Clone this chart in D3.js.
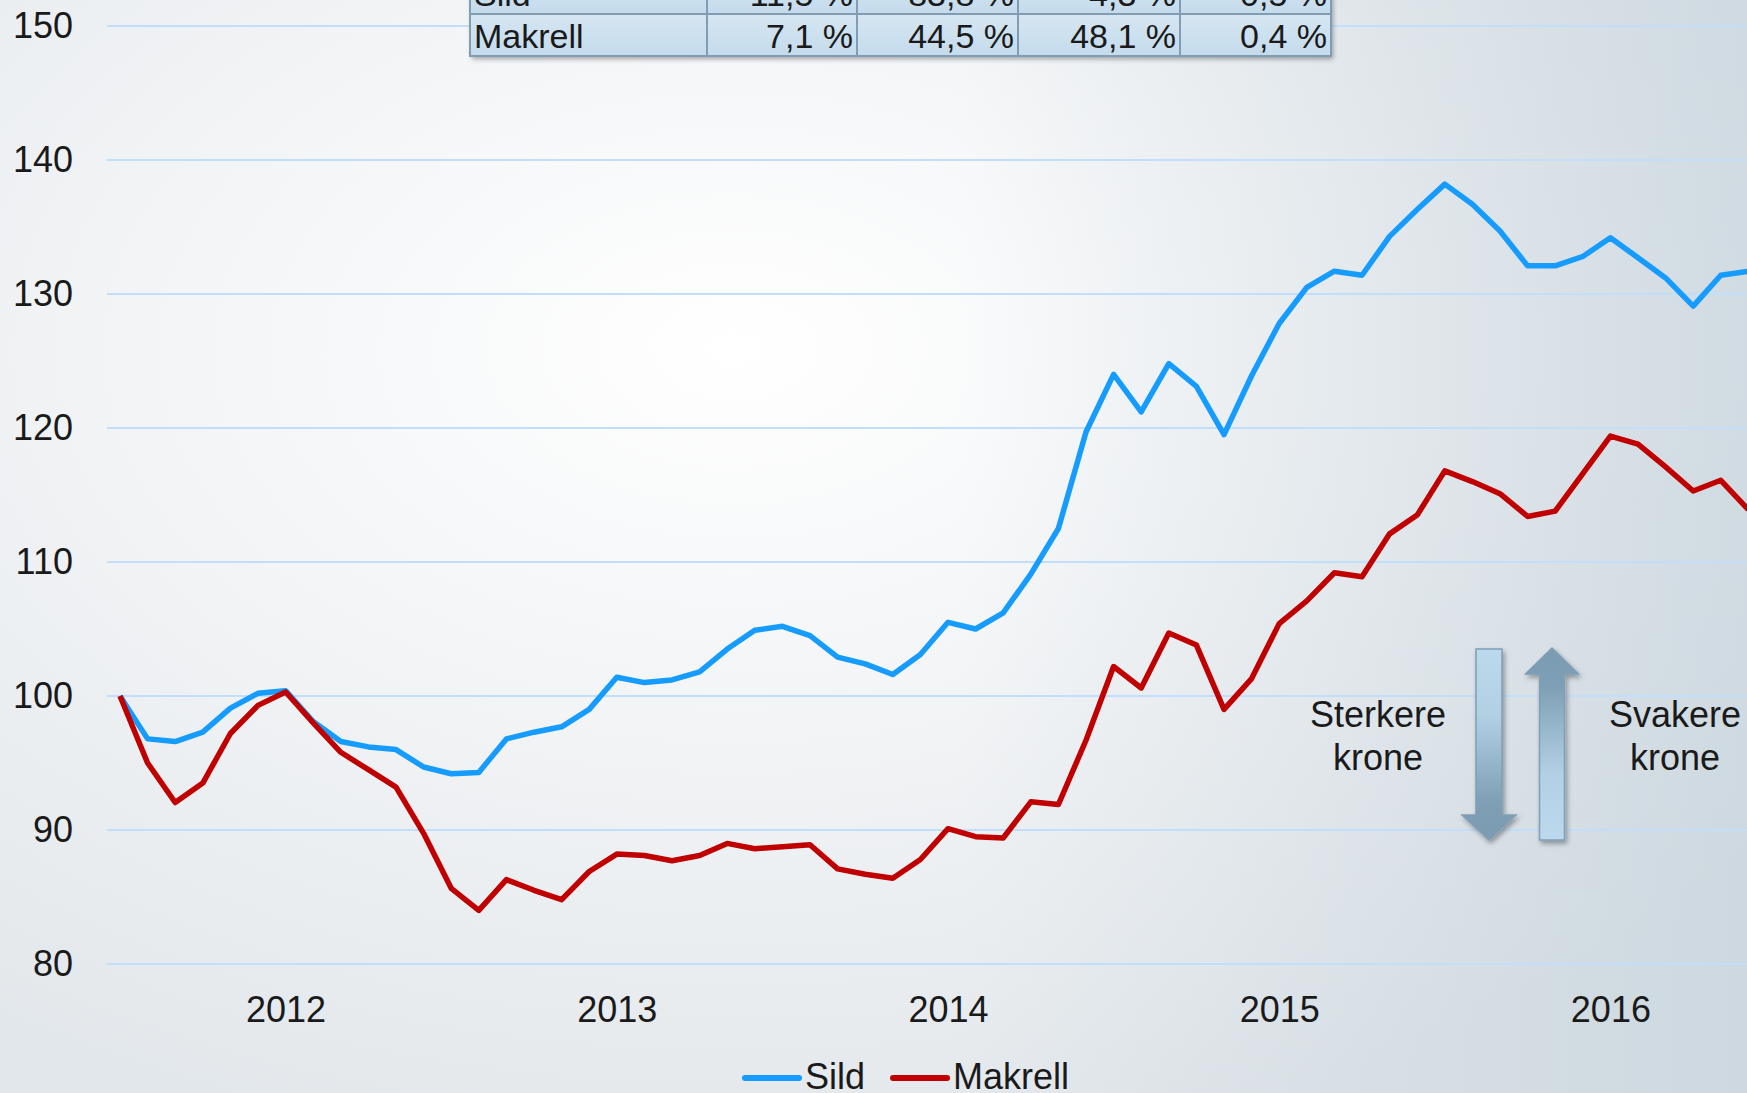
<!DOCTYPE html>
<html>
<head>
<meta charset="utf-8">
<script src="https://cdn.jsdelivr.net/npm/d3@7.9.0/dist/d3.min.js"></script>
<style>
  body { margin: 0; overflow: hidden; }
  svg { display: block; font-family: "Liberation Sans", Arial, sans-serif; }
</style>
</head>
<body>
<div id="chart"></div>
<script>
// monthly index, Jul 2011 .. Jun 2016
const months = d3.range(60).map(i => d3.timeFormat("%Y-%m")(new Date(2011, 6 + i, 1)));
const yearTicks = ["2012-01", "2013-01", "2014-01", "2015-01", "2016-01"];
const yTicks = [80, 90, 100, 110, 120, 130, 140, 150];

const sild = [100, 96.8, 96.6, 97.3, 99.1, 100.2, 100.4, 98.1, 96.6, 96.2,
  96.0, 94.7, 94.2, 94.3, 96.8, 97.3, 97.7, 99.0, 101.4, 101.0,
  101.2, 101.8, 103.5, 104.9, 105.2, 104.5, 102.9, 102.4, 101.6, 103.1,
  105.5, 105.0, 106.2, 109.1, 112.5, 119.7, 124.0, 121.2, 124.8, 123.1,
  119.5, 123.9, 127.8, 130.5, 131.7, 131.4, 134.3, 136.3, 138.2, 136.7,
  134.7, 132.1, 132.1, 132.8, 134.2, 132.7, 131.2, 129.1, 131.4, 131.7];

const makrell = [100, 95.0, 92.05, 93.5, 97.2, 99.3, 100.3, 98.0, 95.8, 94.5,
  93.2, 89.75, 85.65, 84.0, 86.3, 85.5, 84.8, 86.9, 88.2, 88.1,
  87.7, 88.1, 89.0, 88.6, 88.75, 88.9, 87.1, 86.7, 86.4, 87.8,
  90.1, 89.5, 89.4, 92.1, 91.9, 96.7, 102.2, 100.6, 104.7, 103.8,
  99.0, 101.3, 105.4, 107.1, 109.2, 108.9, 112.1, 113.5, 116.8, 116.0,
  115.1, 113.4, 113.8, 116.6, 119.4, 118.8, 117.1, 115.3, 116.1, 113.9];

// share table (top row is cut off in the original)
const tableRows = ["Sild", "Makrell"];
const tableValues = [
  ["11,5 %", "83,8 %", "4,3 %", "0,5 %"],
  ["7,1 %", "44,5 %", "48,1 %", "0,4 %"]
];

const series = [
  { name: "Sild", values: sild, color: "#169bff" },
  { name: "Makrell", values: makrell, color: "#c00000" }
];

const W = 1747, H = 1093;
const svg = d3.select("#chart").append("svg")
  .attr("width", W)
  .attr("height", H);

const defs = svg.append("defs");

const bg = defs.append("radialGradient")
  .attr("id", "bg")
  .attr("cx", "42%").attr("cy", "32%").attr("r", "75%");
bg.append("stop").attr("offset", "0").attr("stop-color", "#ffffff");
bg.append("stop").attr("offset", "0.5").attr("stop-color", "#f1f3f5");
bg.append("stop").attr("offset", "1").attr("stop-color", "#e2e7eb");

const side = defs.append("linearGradient")
  .attr("id", "side").attr("x1", 0).attr("y1", 0).attr("x2", 1).attr("y2", 0);
side.append("stop").attr("offset", "0.55").attr("stop-color", "#b4c6d2").attr("stop-opacity", 0);
side.append("stop").attr("offset", "1").attr("stop-color", "#b4c6d2").attr("stop-opacity", 0.45);

const cellGrad = defs.append("linearGradient")
  .attr("id", "cell").attr("x1", 0).attr("y1", 0).attr("x2", 0).attr("y2", 1);
cellGrad.append("stop").attr("offset", "0").attr("stop-color", "#d6e6f2");
cellGrad.append("stop").attr("offset", "1").attr("stop-color", "#c4dbec");

const downGrad = defs.append("linearGradient")
  .attr("id", "downGrad").attr("x1", 0).attr("y1", 0).attr("x2", 0).attr("y2", 1);
downGrad.append("stop").attr("offset", "0").attr("stop-color", "#bcd8ec");
downGrad.append("stop").attr("offset", "0.35").attr("stop-color", "#b2d0e4");
downGrad.append("stop").attr("offset", "0.8").attr("stop-color", "#7e9fb5");
downGrad.append("stop").attr("offset", "1").attr("stop-color", "#7a9bb1");

const upGrad = defs.append("linearGradient")
  .attr("id", "upGrad").attr("x1", 0).attr("y1", 0).attr("x2", 0).attr("y2", 1);
upGrad.append("stop").attr("offset", "0").attr("stop-color", "#7a9bb1");
upGrad.append("stop").attr("offset", "0.2").attr("stop-color", "#7e9fb5");
upGrad.append("stop").attr("offset", "0.65").attr("stop-color", "#b2d0e4");
upGrad.append("stop").attr("offset", "1").attr("stop-color", "#bcd8ec");

const shadow = defs.append("filter").attr("id", "shadow")
  .attr("x", "-20%").attr("y", "-20%").attr("width", "140%").attr("height", "150%");
shadow.append("feDropShadow")
  .attr("dx", 2).attr("dy", 3).attr("stdDeviation", 2.5)
  .attr("flood-color", "#000").attr("flood-opacity", 0.35);

svg.append("rect")
  .attr("width", W).attr("height", H)
  .attr("fill", "url(#bg)");
svg.append("rect")
  .attr("width", W).attr("height", H)
  .attr("fill", "url(#side)");

// scales
const x = d3.scalePoint()
  .domain(months)
  .range([120, 120 + 59 * 27.6]);

const y = d3.scaleLinear()
  .domain([80, 150])
  .range([964, 26]);

// gridlines
svg.append("g")
  .selectAll("line")
  .data(yTicks)
  .join("line")
  .attr("x1", 107).attr("x2", W)
  .attr("y1", d => y(d)).attr("y2", d => y(d))
  .attr("stroke", "#c2defa")
  .attr("stroke-width", 1.8);

// y axis labels
const yAxis = svg.append("g")
  .attr("transform", "translate(107,0)")
  .call(d3.axisLeft(y).tickValues(yTicks).tickSize(0).tickPadding(34));
yAxis.select(".domain").remove();
yAxis.selectAll("text")
  .attr("font-size", 36)
  .attr("font-family", "Liberation Sans, Arial, sans-serif")
  .attr("fill", "#1a1a1a");

// x axis year labels
const xAxis = svg.append("g")
  .attr("transform", `translate(0,${y(80)})`)
  .call(d3.axisBottom(x).tickValues(yearTicks).tickSize(0).tickPadding(32)
    .tickFormat(d => d.slice(0, 4)));
xAxis.select(".domain").remove();
xAxis.selectAll("text")
  .attr("font-size", 36)
  .attr("font-family", "Liberation Sans, Arial, sans-serif")
  .attr("fill", "#1a1a1a");

// lines
const line = d3.line()
  .x((d, i) => x(months[i]))
  .y(d => y(d));

svg.append("g")
  .selectAll("path")
  .data(series)
  .join("path")
  .attr("fill", "none")
  .attr("stroke", d => d.color)
  .attr("stroke-width", 5.5)
  .attr("stroke-linejoin", "round")
  .attr("d", d => line(d.values));

// table at the top (partially cut off)
const colEdges = [470, 707, 857, 1018, 1180, 1331];
const rowTop = -28, rowH = 42;
const table = svg.append("g");
table.append("rect")
  .attr("x", colEdges[0]).attr("y", rowTop)
  .attr("width", colEdges[5] - colEdges[0])
  .attr("height", rowH * tableRows.length)
  .attr("fill", "url(#cell)")
  .attr("filter", "url(#shadow)");

tableRows.forEach((name, r) => {
  const top = rowTop + r * rowH;
  table.append("rect")
    .attr("x", colEdges[0]).attr("y", top)
    .attr("width", colEdges[5] - colEdges[0]).attr("height", rowH)
    .attr("fill", "url(#cell)")
    .attr("stroke", "#809db3").attr("stroke-width", 2);
  table.append("text")
    .attr("x", colEdges[0] + 4).attr("y", top + rowH - 8)
    .attr("font-size", 34).attr("fill", "#1a1a1a")
    .text(name);
  tableValues[r].forEach((v, c) => {
    table.append("text")
      .attr("x", colEdges[c + 2] - 4).attr("y", top + rowH - 8)
      .attr("text-anchor", "end")
      .attr("font-size", 34).attr("fill", "#1a1a1a")
      .text(v);
  });
});
table.selectAll("line.col")
  .data(colEdges.slice(1, 5))
  .join("line")
  .attr("class", "col")
  .attr("x1", d => d).attr("x2", d => d)
  .attr("y1", rowTop).attr("y2", rowTop + rowH * tableRows.length)
  .attr("stroke", "#809db3").attr("stroke-width", 2);

// arrows: stronger / weaker krone
function arrowPath(cx, top, bottom, shaftW, headW, headH, down) {
  const p = d3.path();
  const s = shaftW / 2, h = headW / 2;
  if (down) {
    p.moveTo(cx - s, top);
    p.lineTo(cx + s, top);
    p.lineTo(cx + s, bottom - headH);
    p.lineTo(cx + h, bottom - headH);
    p.lineTo(cx, bottom);
    p.lineTo(cx - h, bottom - headH);
    p.lineTo(cx - s, bottom - headH);
  } else {
    p.moveTo(cx, top);
    p.lineTo(cx + h, top + headH);
    p.lineTo(cx + s, top + headH);
    p.lineTo(cx + s, bottom);
    p.lineTo(cx - s, bottom);
    p.lineTo(cx - s, top + headH);
    p.lineTo(cx - h, top + headH);
  }
  p.closePath();
  return p.toString();
}

svg.append("path")
  .attr("d", arrowPath(1489, 649, 840, 26, 54, 25, true))
  .attr("fill", "url(#downGrad)")
  .attr("stroke", "#7f9fb5").attr("stroke-width", 1.5)
  .attr("filter", "url(#shadow)");

svg.append("path")
  .attr("d", arrowPath(1552, 648, 840, 25, 53, 26, false))
  .attr("fill", "url(#upGrad)")
  .attr("stroke", "#7f9fb5").attr("stroke-width", 1.5)
  .attr("filter", "url(#shadow)");

const notes = [
  { x: 1378, lines: ["Sterkere", "krone"] },
  { x: 1675, lines: ["Svakere", "krone"] }
];
notes.forEach(n => {
  n.lines.forEach((t, i) => {
    svg.append("text")
      .attr("x", n.x).attr("y", 727 + i * 43)
      .attr("text-anchor", "middle")
      .attr("font-size", 36).attr("fill", "#1a1a1a")
      .text(t);
  });
});

// legend
const legend = svg.append("g").attr("transform", "translate(745,1078)");
let lx = 0;
series.forEach(s => {
  legend.append("line")
    .attr("x1", lx).attr("x2", lx + 54)
    .attr("y1", 0).attr("y2", 0)
    .attr("stroke", s.color).attr("stroke-width", 6)
    .attr("stroke-linecap", "round");
  const t = legend.append("text")
    .attr("x", lx + 60).attr("y", 11)
    .attr("font-size", 36).attr("fill", "#1a1a1a")
    .text(s.name);
  lx += 60 + t.node().getComputedTextLength() + 28;
});
</script>
</body>
</html>
